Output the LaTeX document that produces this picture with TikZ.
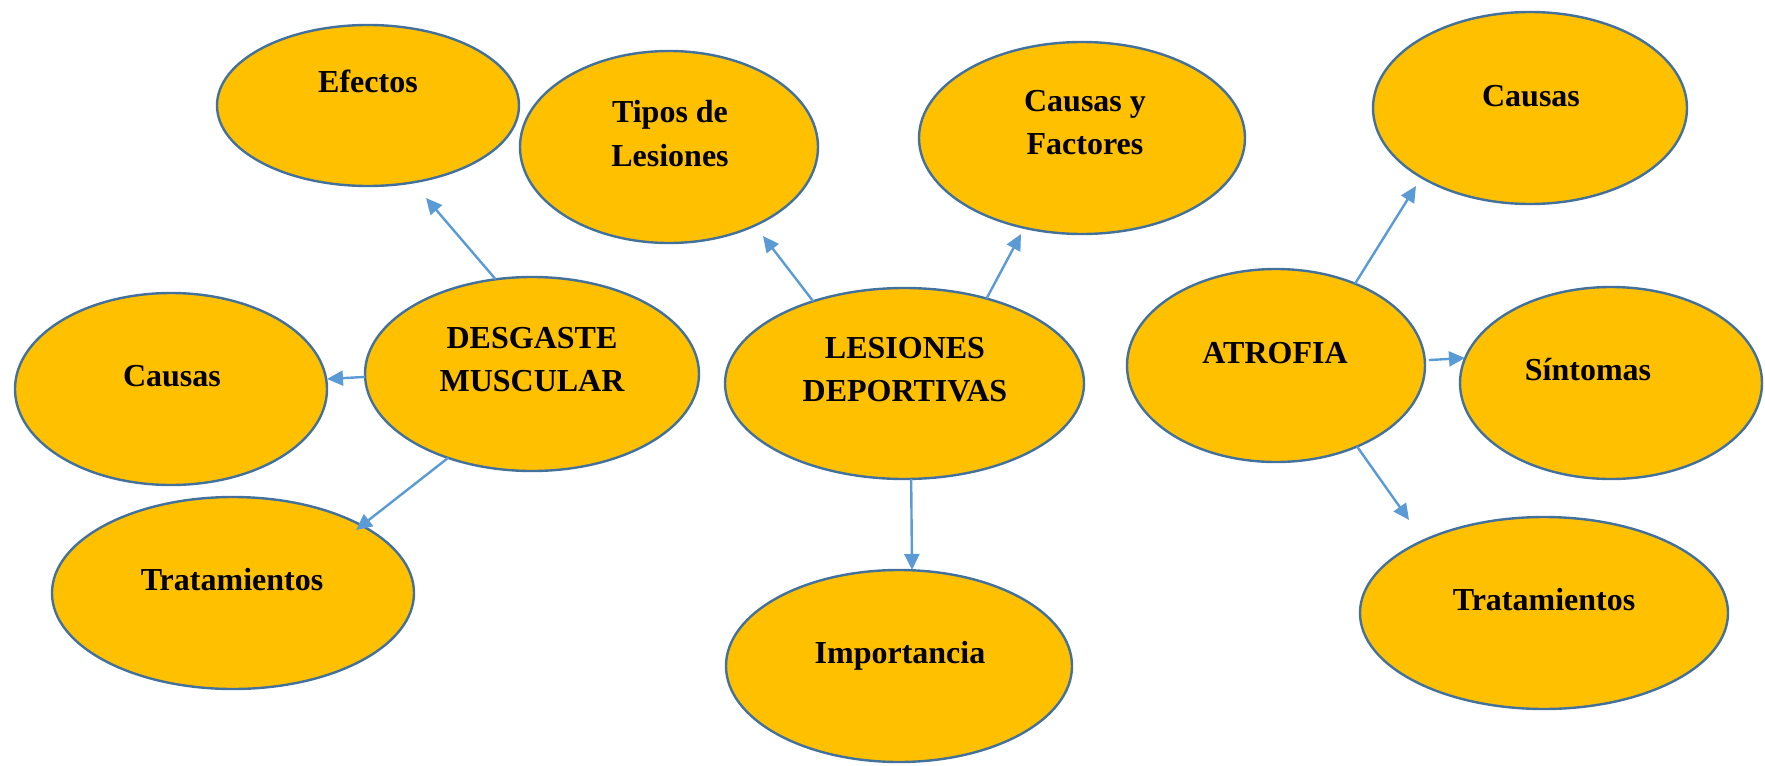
\documentclass[tikz,border=0pt]{standalone}
\usepackage{fontspec}
\setmainfont{Liberation Serif}
\usetikzlibrary{shapes.geometric,arrows.meta}
\definecolor{bubblefill}{HTML}{FFC000}
\definecolor{bubbleline}{HTML}{41719C}
\definecolor{arrowblue}{HTML}{5B9BD5}
\tikzset{
  bubble/.style n args={2}{ellipse, draw=bubbleline, fill=bubblefill, line width=1.2pt,
    inner sep=0pt, outer sep=0pt, minimum width=#1pt, minimum height=#2pt},
  txt/.style={anchor=base, align=center, inner sep=0pt, text=black,
    font=\fontsize{16}{21.5}\selectfont\bfseries},
  link/.style={draw=arrowblue, line width=1.2pt, -{Triangle[length=8pt,width=7.5pt]}},
}
\begin{document}
\begin{tikzpicture}[x=0.5pt, y=-0.5pt]
\useasboundingbox (0,0) rectangle (1765,765);

% ellipses (width and height in pt: 1 unit = 0.5pt)
\node[bubble={151}{80.5}] (efectos)   at (368,105.5) {};
\node[bubble={149}{96}]   (tipos)     at (669,147) {};
\node[bubble={163}{96}]   (factores)  at (1082,138) {};
\node[bubble={157}{96}]   (causasR)   at (1530,108) {};
\node[bubble={156}{96}]   (causasL)   at (171,389) {};
\node[bubble={167}{97}]   (desgaste)  at (532,374) {};
\node[bubble={179.5}{95.5}] (lesiones) at (904.5,383.5) {};
\node[bubble={149}{96.5}] (atrofia)   at (1276,365.5) {};
\node[bubble={151}{96}]   (sintomas)  at (1611,383) {};
\node[bubble={181}{96}]   (tratL)     at (233,593) {};
\node[bubble={173}{96}]   (importancia) at (899,666) {};
\node[bubble={184}{96}]   (tratR)     at (1544,613) {};

% labels, placed on the baseline of their last line
\node[txt] (efectosT)    at (368,93)   {Efectos};
\node[txt] (tiposT)      at (670,166)  {Tipos de\\Lesiones};
\node[txt] (factoresT)   at (1085,155) {Causas y\\Factores};
\node[txt] (causasRT)    at (1531,106) {Causas};
\node[txt] (causasLT)    at (172,386)  {Causas};
\node[txt] (desgasteT)   at (532,391)  {DESGASTE\\MUSCULAR};
\node[txt] (lesionesT)   at (905,401)  {LESIONES\\DEPORTIVAS};
\node[txt] (atrofiaT)    at (1275,363) {ATROFIA};
\node[txt] (sintomasT)   at (1588,380) {Síntomas};
\node[txt] (tratLT)      at (232,590)  {Tratamientos};
\node[txt] (importanciaT) at (900,663) {Importancia};
\node[txt] (tratRT)      at (1544,610) {Tratamientos};

% arrow tips, stopping just short of the target ellipses
\coordinate (toEfectos)     at (426,198);
\coordinate (toCausasL)     at (327,379);
\coordinate (toTratL)       at (356,530);
\coordinate (toTipos)       at (763,236);
\coordinate (toFactores)    at (1021,234);
\coordinate (toImportancia) at (912,570);
\coordinate (toCausasR)     at (1416,186);
\coordinate (toSintomas)    at (1465,358);
\coordinate (toTratR)       at (1409,520);

% connectors
\draw[link] (desgaste.111)   -- (toEfectos);
\draw[link] (desgaste.181.7) -- (toCausasL);
\draw[link] (desgaste.225.7) -- (toTratL);
\draw[link] (lesiones.138.3) -- (toTipos);
\draw[link] (lesiones.46.4)  -- (toFactores);
\draw[link] (lesiones.274.4) -- (toImportancia);
\draw[link] (atrofia.46.2)   -- (toCausasR);
\draw[link, shorten <=2pt] (atrofia.2.9) -- (toSintomas);
\draw[link] (atrofia.315.2)  -- (toTratR);
\end{tikzpicture}
\end{document}
